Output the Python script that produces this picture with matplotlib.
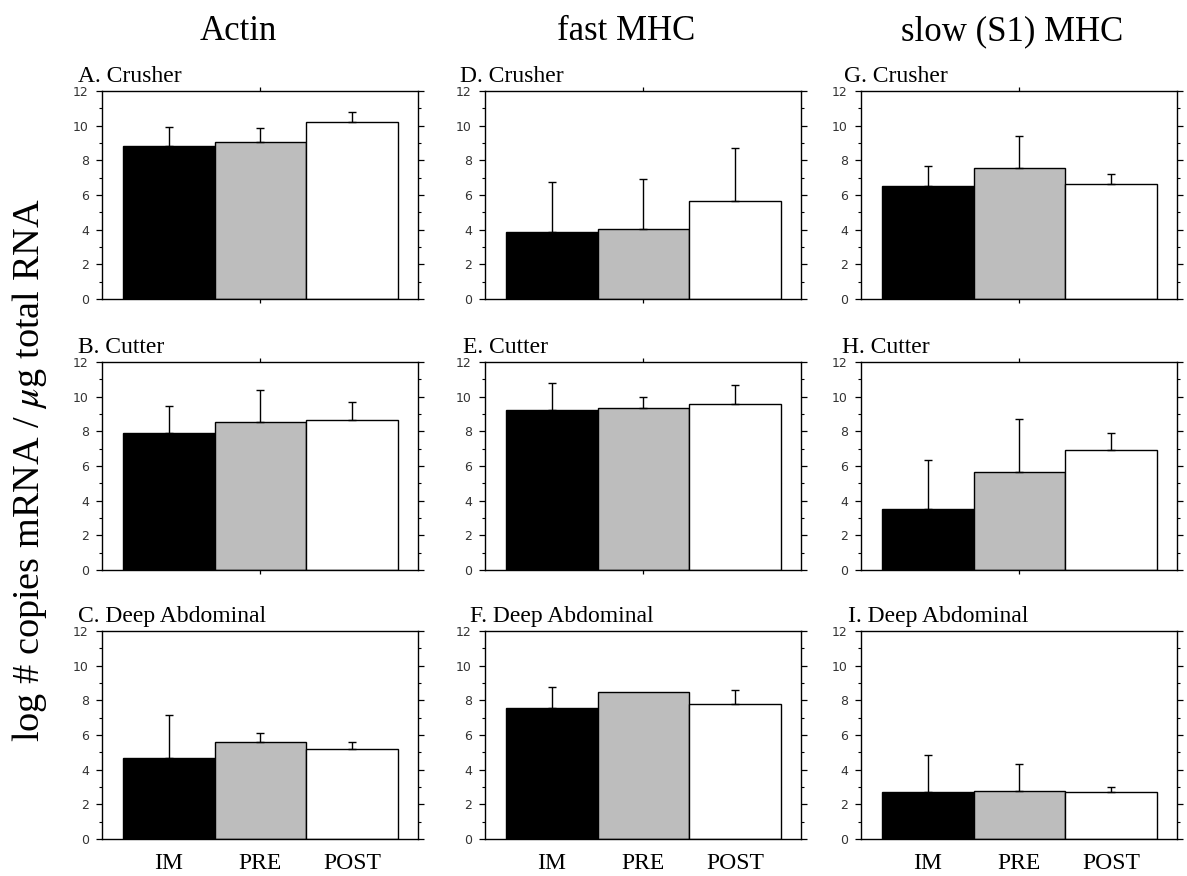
import numpy as np
import matplotlib
matplotlib.use('Agg')
import matplotlib.pyplot as plt
from matplotlib.ticker import MultipleLocator, FixedLocator

plt.rcParams['mathtext.fontset'] = 'stix'

groups = ['IM', 'PRE', 'POST']
genes = ['Actin', 'fast MHC', 'slow (S1) MHC']
panel_titles = [['A. Crusher', 'B. Cutter', 'C. Deep Abdominal'],
                ['D. Crusher', 'E. Cutter', 'F. Deep Abdominal'],
                ['G. Crusher', 'H. Cutter', 'I. Deep Abdominal']]

# mean log copies (rows: Crusher, Cutter, Deep Abdominal; cols: IM, PRE, POST)
actin_mean = [[8.85, 9.07, 10.22], [7.88, 8.54, 8.65], [4.69, 5.59, 5.17]]
actin_err = [[1.08, 0.77, 0.54], [1.60, 1.86, 1.02], [2.49, 0.50, 0.42]]
fast_mean = [[3.84, 4.05, 5.65], [9.22, 9.33, 9.56], [7.53, 8.49, 7.78]]
fast_err = [[2.92, 2.86, 3.09], [1.57, 0.64, 1.10], [1.25, 0.0, 0.80]]
slow_mean = [[6.51, 7.57, 6.62], [3.52, 5.66, 6.90], [2.74, 2.79, 2.74]]
slow_err = [[1.17, 1.84, 0.60], [2.82, 3.08, 0.99], [2.11, 1.54, 0.25]]

means = [actin_mean, fast_mean, slow_mean]
errs = [actin_err, fast_err, slow_err]
bar_colors = ['black', '#bdbdbd', 'white']

W, H = 1187, 876
fig = plt.figure(figsize=(W / 100, H / 100), dpi=100)

col_left = [102, 485, 861]
row_top = [91, 362, 631]
ax_w, ax_h = 316, 208
title_off = [[24, 24, 24], [25, 22, 15], [17, 19, 13]]
header_x = [238, 626, 1012]

serif = 'Liberation Serif'
x = np.arange(3)

for c in range(3):
    for r in range(3):
        ax = fig.add_axes([col_left[c] / W, 1 - (row_top[r] + ax_h) / H, ax_w / W, ax_h / H])
        m = np.array(means[c][r])
        e = np.array(errs[c][r])
        ax.bar(x, m, width=1.0, color=bar_colors, edgecolor='black', linewidth=1.0, zorder=2)
        keep = e > 0
        ax.errorbar(x[keep], m[keep], yerr=[np.zeros(keep.sum()), e[keep]], fmt='none',
                    ecolor='black', elinewidth=1.0, capsize=3, capthick=1.0, zorder=3)
        ax.set_xlim(-0.73, 2.72)
        ax.set_ylim(0, 12)
        ax.yaxis.set_major_locator(MultipleLocator(2))
        ax.yaxis.set_minor_locator(MultipleLocator(1))
        ax.xaxis.set_major_locator(FixedLocator([1]))
        ax.tick_params(axis='y', which='major', direction='out', length=4.5, width=0.9,
                       labelsize=9, pad=5, right=True, labelcolor='#333333')
        ax.tick_params(axis='y', which='minor', direction='out', length=2.5, width=0.8, right=True)
        ax.tick_params(axis='x', which='major', direction='out', length=3, width=0.9, top=True)
        if r == 2:
            ax.set_xticks(x)
            ax.set_xticklabels(groups, fontfamily=serif, fontsize=17)
            ax.tick_params(axis='x', length=0, pad=10)
            ax.set_xticks([1], minor=True)
            ax.tick_params(axis='x', which='minor', direction='out', length=3, width=0.9, top=True)
        else:
            ax.set_xticklabels([])
        for s in ax.spines.values():
            s.set_linewidth(1.0)
        ax.text(-title_off[c][r] / ax_w, 1 + 9 / ax_h, panel_titles[c][r], transform=ax.transAxes,
                fontfamily=serif, fontsize=17, ha='left', va='baseline')
    fig.text(header_x[c] / W, 1 - 40 / H, genes[c], fontfamily=serif, fontsize=25,
             ha='center', va='baseline')

fig.text(30 / W, 1 - 470 / H, r'log # copies mRNA / $\mu$g total RNA', fontfamily=serif,
         fontsize=27.5, rotation=90, ha='center', va='center')

fig.savefig('out.png', dpi=100)
